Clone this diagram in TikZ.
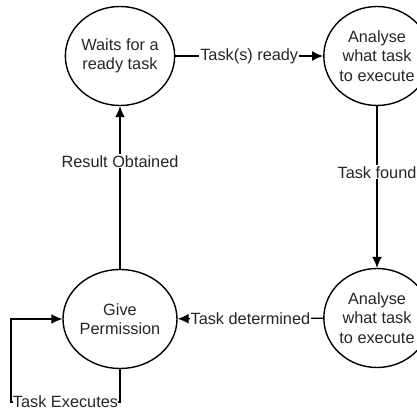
\documentclass[tikz,border=0pt]{standalone}
\usepackage{fontspec}
\setmainfont{Liberation Sans}
\usetikzlibrary{shapes.geometric,arrows.meta}
\begin{document}
\begin{tikzpicture}[x=1pt,y=-1pt,
  state/.style={ellipse,draw=black,line width=1.4pt,minimum width=92pt,minimum height=99pt,inner sep=0pt,align=center,font=\fontsize{16.3}{19.5}\selectfont,text=black!85},
  conn/.style={line width=1.4pt,-{Latex[length=11pt,width=10pt]}},
  lbl/.style={fill=white,inner sep=1pt,font=\fontsize{16.3}{19}\selectfont,text=black!85}]
\useasboundingbox (0,0) rectangle (417,411);
\node[state] (wait) at (120,56) {Waits for a\\ready task};
\node[state] (an1) at (377,56) {Analyse\\what task\\to execute};
\node[state] (an2) at (377,318) {Analyse\\what task\\to execute};
\node[state] (give) at (120,319) {Give\\Permission};
\coordinate (b1) at (120,402);
\coordinate (b2) at (11,402);
\coordinate (b3) at (11,319);
\draw[conn] (wait) -- node[lbl] {Task(s) ready} (an1);
\draw[conn] (an1) -- node[lbl,pos=0.41] {Task found} (an2);
\draw[conn] (an2) -- node[lbl] {Task determined} (give);
\draw[conn] (give) -- node[lbl,pos=0.66] {Result Obtained} (wait);
\draw[conn] (give.south) -- (b1) -- node[lbl,inner sep=0.3pt] {Task Executes} (b2) -- (b3) -- (give.west);
\end{tikzpicture}
\end{document}
